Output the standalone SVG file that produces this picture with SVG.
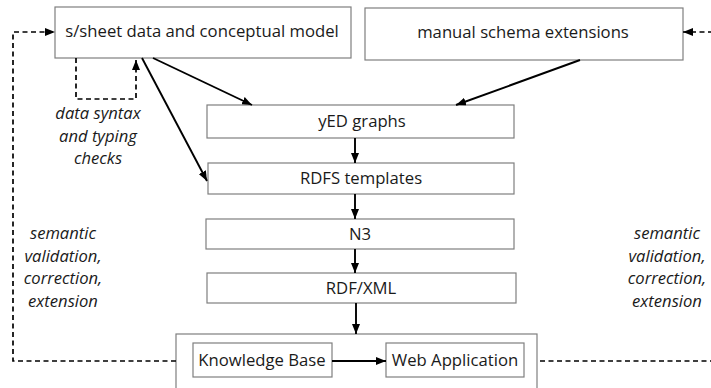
<svg xmlns="http://www.w3.org/2000/svg" width="711" height="388" viewBox="0 0 711 388">
  <style>
    .box { fill: #fff; stroke: #7f7f7f; stroke-width: 1.2; }
    .lbl { font-family: "Open Sans", "Liberation Sans", sans-serif; font-size: 16.7px; fill: #1a1a1a; text-anchor: middle; }
    .note { font-family: "Open Sans", "Liberation Sans", sans-serif; font-size: 16.6px; font-style: italic; fill: #1a1a1a; text-anchor: middle; }
    .flow { stroke: #000; stroke-width: 1.9; fill: none; marker-end: url(#head); }
    .dash { stroke: #000; stroke-width: 1.7; fill: none; stroke-dasharray: 5 3.5; }
  </style>
  <defs>
    <marker id="head" markerWidth="10" markerHeight="8" refX="10" refY="4" orient="auto" markerUnits="userSpaceOnUse">
      <path d="M0,0 L10,4 L0,8 z" fill="#000"/>
    </marker>
  </defs>
  <rect width="711" height="388" fill="#fff"/>

  <g id="node-sheet">
    <rect class="box" x="55" y="7" width="296" height="51"/>
    <text class="lbl" x="202" y="37">s/sheet data and conceptual model</text>
  </g>
  <g id="node-manual">
    <rect class="box" x="365" y="8" width="318" height="52"/>
    <text class="lbl" x="523" y="38">manual schema extensions</text>
  </g>
  <g id="node-yed">
    <rect class="box" x="207" y="105" width="307" height="33"/>
    <text class="lbl" x="362" y="127">yED graphs</text>
  </g>
  <g id="node-rdfs">
    <rect class="box" x="208" y="163" width="306" height="31"/>
    <text class="lbl" x="361" y="184">RDFS templates</text>
  </g>
  <g id="node-n3">
    <rect class="box" x="206" y="219" width="308" height="30"/>
    <text class="lbl" x="360" y="240">N3</text>
  </g>
  <g id="node-rdfxml">
    <rect class="box" x="207" y="273" width="309" height="30"/>
    <text class="lbl" x="361" y="294">RDF/XML</text>
  </g>
  <g id="node-system">
    <rect class="box" x="176" y="334" width="361" height="60"/>
  </g>
  <g id="node-kb">
    <rect class="box" x="193" y="343" width="139" height="34"/>
    <text class="lbl" x="262" y="366">Knowledge Base</text>
  </g>
  <g id="node-web">
    <rect class="box" x="386" y="343" width="138" height="34"/>
    <text class="lbl" x="455" y="366">Web Application</text>
  </g>

  <g id="notes">
    <text class="note" x="98" y="119">data syntax</text>
    <text class="note" x="98" y="142">and typing</text>
    <text class="note" x="98" y="164">checks</text>
    <text class="note" x="63" y="239">semantic</text>
    <text class="note" x="63" y="262">validation,</text>
    <text class="note" x="63" y="284">correction,</text>
    <text class="note" x="63" y="307">extension</text>
    <text class="note" x="667" y="239">semantic</text>
    <text class="note" x="667" y="262">validation,</text>
    <text class="note" x="667" y="284">correction,</text>
    <text class="note" x="667" y="307">extension</text>
  </g>

  <g id="connectors">
    <line class="flow" x1="153" y1="58" x2="252" y2="105"/>
    <line class="flow" x1="142" y1="58" x2="207" y2="181"/>
    <line class="flow" x1="580" y1="60" x2="456" y2="105"/>
    <line class="flow" x1="355" y1="138" x2="355" y2="163"/>
    <line class="flow" x1="355" y1="194" x2="355" y2="219"/>
    <line class="flow" x1="355" y1="249" x2="355" y2="273"/>
    <line class="flow" x1="356" y1="303" x2="356" y2="334"/>
    <line class="flow" x1="332" y1="361" x2="386" y2="361"/>
    <path class="dash" d="M76,58 V99 H136 V60" marker-end="url(#head)"/>
    <path class="dash" d="M176,361 H13 V32 H55" marker-end="url(#head)"/>
    <path class="dash" d="M540,361 H713"/>
    <path class="dash" d="M713,32 H683" marker-end="url(#head)"/>
  </g>
</svg>
